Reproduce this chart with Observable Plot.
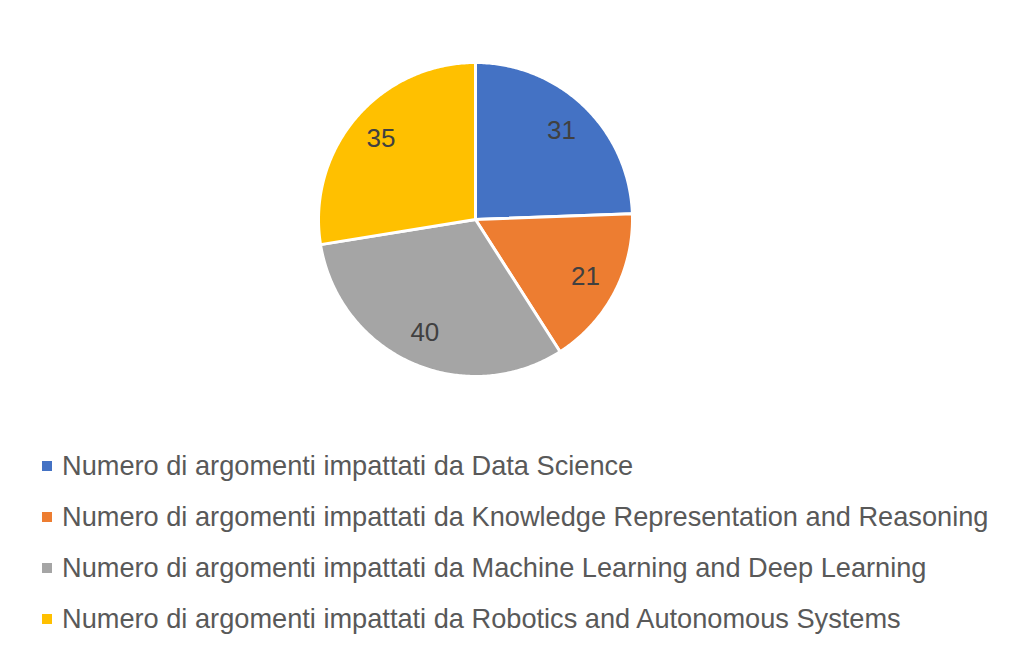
<!DOCTYPE html>
<html>
<head>
<meta charset="utf-8">
<script src="https://cdn.jsdelivr.net/npm/d3@7"></script>
<script src="https://cdn.jsdelivr.net/npm/@observablehq/plot@0.6"></script>
<style>
  html, body { margin: 0; padding: 0; background: #fff; }
  body { width: 1024px; height: 659px; overflow: hidden; font-family: "Liberation Sans", Arial, sans-serif; }
  #legend { margin-top: 20px; margin-left: 42px; }
  .row { display: flex; align-items: center; height: 51px; }
  .sw { width: 10px; height: 10px; margin-right: 10px; flex: none; }
  .lab { font-size: 27.2px; color: #595959; white-space: nowrap; }
</style>
</head>
<body>
<div id="chart"></div>
<div id="legend"></div>
<script>
const categories = [
  "Numero di argomenti impattati da Data Science",
  "Numero di argomenti impattati da Knowledge Representation and Reasoning",
  "Numero di argomenti impattati da Machine Learning and Deep Learning",
  "Numero di argomenti impattati da Robotics and Autonomous Systems"
];
const values = [31, 21, 40, 35];
const colors = ["#4472C4", "#ED7D31", "#A5A5A5", "#FFC000"];

const data = categories.map((c, i) => ({category: c, value: values[i]}));
const arcs = d3.pie().sort(null).value(d => d.value)(data);

// Polygon points for each slice in unit-circle coordinates
const slicePts = [];
arcs.forEach(a => {
  const n = Math.max(2, Math.ceil((a.endAngle - a.startAngle) / 0.01));
  slicePts.push({category: a.data.category, x: 0, y: 0});
  for (let k = 0; k <= n; k++) {
    const t = a.startAngle + (a.endAngle - a.startAngle) * k / n;
    slicePts.push({category: a.data.category, x: Math.sin(t), y: Math.cos(t)});
  }
  slicePts.push({category: a.data.category, x: 0, y: 0});
});
const labelR = 0.79;
const labels = arcs.map(a => {
  const m = (a.startAngle + a.endAngle) / 2;
  return {category: a.data.category, value: a.data.value, x: labelR * Math.sin(m), y: labelR * Math.cos(m)};
});

const chart = Plot.plot({
  width: 1024,
  height: 420,
  margin: 0,
  x: {domain: [-1, 1], range: [318, 632], axis: null},
  y: {domain: [-1, 1], range: [376, 62], axis: null},
  color: {domain: categories, range: colors},
  marks: [
    Plot.line(slicePts, {x: "x", y: "y", z: "category", fill: "category", stroke: "white", strokeWidth: 3, strokeLinejoin: "round", curve: "linear"}),
    Plot.text(labels, {x: "x", y: "y", text: d => String(d.value), fill: "#404040", fontSize: 26, fontFamily: "Liberation Sans, Arial, sans-serif"})
  ],
  style: {background: "white", fontFamily: "Liberation Sans, Arial, sans-serif"}
});
document.getElementById("chart").appendChild(chart);

const legend = d3.select("#legend");
categories.forEach((c, i) => {
  const row = legend.append("div").attr("class", "row");
  row.append("div").attr("class", "sw").style("background", colors[i]);
  row.append("div").attr("class", "lab").text(c);
});
</script>
</body>
</html>
